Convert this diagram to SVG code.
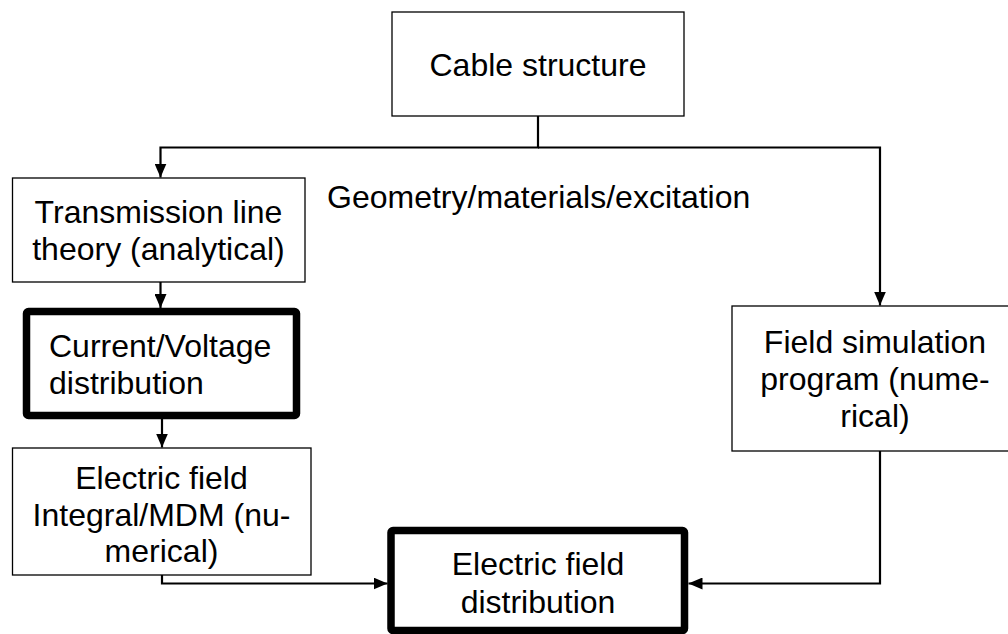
<svg xmlns="http://www.w3.org/2000/svg" width="1008" height="634" viewBox="0 0 1008 634">
<style>
text{font-family:"Liberation Sans",Arial,sans-serif;font-size:32px;fill:#000}
.c{text-anchor:middle}
.thin{fill:#fff;stroke:#000;stroke-width:1.3}
.thick{fill:#fff;stroke:#000;stroke-width:7.5}
.con{fill:none;stroke:#000;stroke-width:2.2}
</style>
<defs>
<marker id="ah" viewBox="0 0 14 12" refX="14" refY="6" markerWidth="14" markerHeight="12" markerUnits="userSpaceOnUse" orient="auto">
<path d="M0,0 L14,6 L0,12 z" fill="#000"/>
</marker>
</defs>
<rect width="1008" height="634" fill="#fff"/>
<g id="connectors">
<path class="con" d="M538,116 V147.5 H160.5 V177.5" marker-end="url(#ah)"/>
<path class="con" d="M538,147.5 H880 V305.5" marker-end="url(#ah)"/>
<path class="con" d="M160.5,282 V308" marker-end="url(#ah)"/>
<path class="con" d="M162,419 V447.5" marker-end="url(#ah)"/>
<path class="con" d="M162,575 V583.5 H387.5" marker-end="url(#ah)"/>
<path class="con" d="M880,451 V583.5 H688.5" marker-end="url(#ah)"/>
</g>
<g id="cable">
<rect class="thin" x="392" y="12" width="292" height="104"/>
<text class="c" x="538" y="76">Cable structure</text>
</g>
<g id="label">
<text x="327" y="208">Geometry/materials/excitation</text>
</g>
<g id="tl">
<rect class="thin" x="12.5" y="178" width="292.5" height="104"/>
<text class="c" x="158.5" y="223">Transmission line</text>
<text class="c" x="158.5" y="260">theory (analytical)</text>
</g>
<g id="cv">
<rect class="thick" x="26.5" y="311.5" width="270" height="104" rx="2"/>
<text x="49" y="357">Current/Voltage</text>
<text x="49" y="394">distribution</text>
</g>
<g id="ef">
<rect class="thin" x="12.5" y="448" width="298.5" height="127"/>
<text class="c" x="161.5" y="489">Electric field</text>
<text class="c" x="161.5" y="526">Integral/MDM (nu-</text>
<text class="c" x="161.5" y="562">merical)</text>
</g>
<g id="fs">
<rect class="thin" x="732" y="306" width="290" height="145"/>
<text class="c" x="875" y="353">Field simulation</text>
<text class="c" x="875" y="390">program (nume-</text>
<text class="c" x="875" y="427">rical)</text>
</g>
<g id="efd">
<rect class="thick" x="391" y="530.5" width="293.5" height="100" rx="2"/>
<text class="c" x="538" y="575">Electric field</text>
<text class="c" x="538" y="613">distribution</text>
</g>
</svg>
